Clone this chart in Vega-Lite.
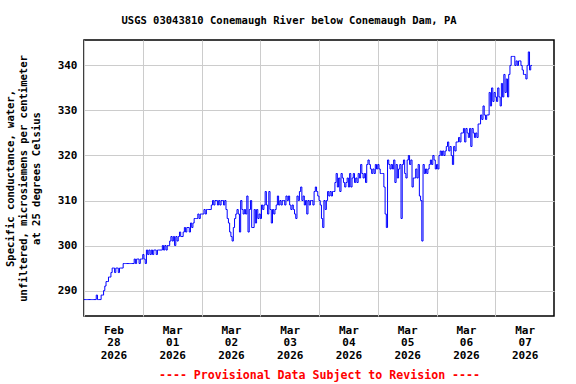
{
"$schema": "https://vega.github.io/schema/vega-lite/v6.json",
"width": 470, "height": 276,
"autosize": {"type": "none"},
"padding": {"left": 84, "top": 40, "right": 22, "bottom": 68},
"background": "white",
"title": {"text": "USGS 03043810 Conemaugh River below Conemaugh Dam, PA", "font": "DejaVu Sans Mono", "fontSize": 10.5, "fontWeight": "bold", "color": "black", "anchor": "middle", "dx": -30, "baseline": "alphabetic", "offset": 6},
"config": {"view": {"stroke": "black", "strokeWidth": 1.5}},
"data": {"values": [
{"t":"2026-02-28T00:00","v":288},{"t":"2026-02-28T00:30","v":288},{"t":"2026-02-28T01:00","v":288},{"t":"2026-02-28T01:30","v":288},{"t":"2026-02-28T02:00","v":288},{"t":"2026-02-28T02:30","v":288},{"t":"2026-02-28T03:00","v":288},{"t":"2026-02-28T03:30","v":288},{"t":"2026-02-28T04:00","v":288},{"t":"2026-02-28T04:30","v":288},{"t":"2026-02-28T05:00","v":289},{"t":"2026-02-28T05:30","v":288},{"t":"2026-02-28T06:00","v":288},{"t":"2026-02-28T06:30","v":288},{"t":"2026-02-28T07:00","v":289},{"t":"2026-02-28T07:30","v":289},{"t":"2026-02-28T08:00","v":290},{"t":"2026-02-28T08:30","v":291},{"t":"2026-02-28T09:00","v":292},{"t":"2026-02-28T09:30","v":292},{"t":"2026-02-28T10:00","v":293},{"t":"2026-02-28T10:30","v":293},{"t":"2026-02-28T11:00","v":294},{"t":"2026-02-28T11:30","v":295},{"t":"2026-02-28T12:00","v":295},{"t":"2026-02-28T12:30","v":294},{"t":"2026-02-28T13:00","v":295},{"t":"2026-02-28T13:30","v":295},{"t":"2026-02-28T14:00","v":294},{"t":"2026-02-28T14:30","v":295},{"t":"2026-02-28T15:00","v":295},{"t":"2026-02-28T15:30","v":295},{"t":"2026-02-28T16:00","v":296},{"t":"2026-02-28T16:30","v":296},{"t":"2026-02-28T17:00","v":296},{"t":"2026-02-28T17:30","v":296},{"t":"2026-02-28T18:00","v":296},{"t":"2026-02-28T18:30","v":296},{"t":"2026-02-28T19:00","v":296},{"t":"2026-02-28T19:30","v":296},{"t":"2026-02-28T20:00","v":296},{"t":"2026-02-28T20:30","v":297},{"t":"2026-02-28T21:00","v":296},{"t":"2026-02-28T21:30","v":297},{"t":"2026-02-28T22:00","v":297},{"t":"2026-02-28T22:30","v":296},{"t":"2026-02-28T23:00","v":297},{"t":"2026-02-28T23:30","v":297},
{"t":"2026-03-01T00:00","v":298},{"t":"2026-03-01T00:30","v":297},{"t":"2026-03-01T01:00","v":296},{"t":"2026-03-01T01:30","v":299},{"t":"2026-03-01T02:00","v":298},{"t":"2026-03-01T02:30","v":299},{"t":"2026-03-01T03:00","v":298},{"t":"2026-03-01T03:30","v":299},{"t":"2026-03-01T04:00","v":298},{"t":"2026-03-01T04:30","v":299},{"t":"2026-03-01T05:00","v":299},{"t":"2026-03-01T05:30","v":298},{"t":"2026-03-01T06:00","v":299},{"t":"2026-03-01T06:30","v":299},{"t":"2026-03-01T07:00","v":299},{"t":"2026-03-01T07:30","v":299},{"t":"2026-03-01T08:00","v":300},{"t":"2026-03-01T08:30","v":299},{"t":"2026-03-01T09:00","v":300},{"t":"2026-03-01T09:30","v":299},{"t":"2026-03-01T10:00","v":300},{"t":"2026-03-01T10:30","v":300},{"t":"2026-03-01T11:00","v":301},{"t":"2026-03-01T11:30","v":302},{"t":"2026-03-01T12:00","v":301},{"t":"2026-03-01T12:30","v":302},{"t":"2026-03-01T13:00","v":300},{"t":"2026-03-01T13:30","v":302},{"t":"2026-03-01T14:00","v":301},{"t":"2026-03-01T14:30","v":302},{"t":"2026-03-01T15:00","v":303},{"t":"2026-03-01T15:30","v":302},{"t":"2026-03-01T16:00","v":302},{"t":"2026-03-01T16:30","v":303},{"t":"2026-03-01T17:00","v":304},{"t":"2026-03-01T17:30","v":303},{"t":"2026-03-01T18:00","v":304},{"t":"2026-03-01T18:30","v":304},{"t":"2026-03-01T19:00","v":303},{"t":"2026-03-01T19:30","v":305},{"t":"2026-03-01T20:00","v":304},{"t":"2026-03-01T20:30","v":305},{"t":"2026-03-01T21:00","v":306},{"t":"2026-03-01T21:30","v":306},{"t":"2026-03-01T22:00","v":306},{"t":"2026-03-01T22:30","v":307},{"t":"2026-03-01T23:00","v":306},{"t":"2026-03-01T23:30","v":307},
{"t":"2026-03-02T00:00","v":307},{"t":"2026-03-02T00:30","v":307},{"t":"2026-03-02T01:00","v":308},{"t":"2026-03-02T01:30","v":307},{"t":"2026-03-02T02:00","v":308},{"t":"2026-03-02T02:30","v":308},{"t":"2026-03-02T03:00","v":308},{"t":"2026-03-02T03:30","v":308},{"t":"2026-03-02T04:00","v":309},{"t":"2026-03-02T04:30","v":310},{"t":"2026-03-02T05:00","v":309},{"t":"2026-03-02T05:30","v":310},{"t":"2026-03-02T06:00","v":310},{"t":"2026-03-02T06:30","v":309},{"t":"2026-03-02T07:00","v":310},{"t":"2026-03-02T07:30","v":309},{"t":"2026-03-02T08:00","v":310},{"t":"2026-03-02T08:30","v":310},{"t":"2026-03-02T09:00","v":309},{"t":"2026-03-02T09:30","v":310},{"t":"2026-03-02T10:00","v":308},{"t":"2026-03-02T10:30","v":306},{"t":"2026-03-02T11:00","v":305},{"t":"2026-03-02T11:30","v":303},{"t":"2026-03-02T12:00","v":302},{"t":"2026-03-02T12:30","v":301},{"t":"2026-03-02T13:00","v":304},{"t":"2026-03-02T13:30","v":306},{"t":"2026-03-02T14:00","v":307},{"t":"2026-03-02T14:30","v":308},{"t":"2026-03-02T15:00","v":307},{"t":"2026-03-02T15:30","v":303},{"t":"2026-03-02T16:00","v":310},{"t":"2026-03-02T16:30","v":308},{"t":"2026-03-02T17:00","v":307},{"t":"2026-03-02T17:30","v":308},{"t":"2026-03-02T18:00","v":307},{"t":"2026-03-02T18:30","v":311},{"t":"2026-03-02T19:00","v":303},{"t":"2026-03-02T19:30","v":308},{"t":"2026-03-02T20:00","v":310},{"t":"2026-03-02T20:30","v":304},{"t":"2026-03-02T21:00","v":304},{"t":"2026-03-02T21:30","v":308},{"t":"2026-03-02T22:00","v":305},{"t":"2026-03-02T22:30","v":308},{"t":"2026-03-02T23:00","v":306},{"t":"2026-03-02T23:30","v":307},
{"t":"2026-03-03T00:00","v":306},{"t":"2026-03-03T00:30","v":309},{"t":"2026-03-03T01:00","v":308},{"t":"2026-03-03T01:30","v":309},{"t":"2026-03-03T02:00","v":312},{"t":"2026-03-03T02:30","v":309},{"t":"2026-03-03T03:00","v":307},{"t":"2026-03-03T03:30","v":312},{"t":"2026-03-03T04:00","v":308},{"t":"2026-03-03T04:30","v":305},{"t":"2026-03-03T05:00","v":308},{"t":"2026-03-03T05:30","v":307},{"t":"2026-03-03T06:00","v":308},{"t":"2026-03-03T06:30","v":309},{"t":"2026-03-03T07:00","v":311},{"t":"2026-03-03T07:30","v":309},{"t":"2026-03-03T08:00","v":310},{"t":"2026-03-03T08:30","v":309},{"t":"2026-03-03T09:00","v":310},{"t":"2026-03-03T09:30","v":310},{"t":"2026-03-03T10:00","v":309},{"t":"2026-03-03T10:30","v":311},{"t":"2026-03-03T11:00","v":310},{"t":"2026-03-03T11:30","v":311},{"t":"2026-03-03T12:00","v":309},{"t":"2026-03-03T12:30","v":308},{"t":"2026-03-03T13:00","v":309},{"t":"2026-03-03T13:30","v":308},{"t":"2026-03-03T14:00","v":307},{"t":"2026-03-03T14:30","v":306},{"t":"2026-03-03T15:00","v":311},{"t":"2026-03-03T15:30","v":310},{"t":"2026-03-03T16:00","v":312},{"t":"2026-03-03T16:30","v":313},{"t":"2026-03-03T17:00","v":310},{"t":"2026-03-03T17:30","v":311},{"t":"2026-03-03T18:00","v":309},{"t":"2026-03-03T18:30","v":310},{"t":"2026-03-03T19:00","v":307},{"t":"2026-03-03T19:30","v":310},{"t":"2026-03-03T20:00","v":309},{"t":"2026-03-03T20:30","v":310},{"t":"2026-03-03T21:00","v":310},{"t":"2026-03-03T21:30","v":309},{"t":"2026-03-03T22:00","v":312},{"t":"2026-03-03T22:30","v":313},{"t":"2026-03-03T23:00","v":312},{"t":"2026-03-03T23:30","v":311},
{"t":"2026-03-04T00:00","v":310},{"t":"2026-03-04T00:30","v":309},{"t":"2026-03-04T01:00","v":306},{"t":"2026-03-04T01:30","v":304},{"t":"2026-03-04T02:00","v":310},{"t":"2026-03-04T02:30","v":308},{"t":"2026-03-04T03:00","v":310},{"t":"2026-03-04T03:30","v":312},{"t":"2026-03-04T04:00","v":311},{"t":"2026-03-04T04:30","v":312},{"t":"2026-03-04T05:00","v":311},{"t":"2026-03-04T05:30","v":312},{"t":"2026-03-04T06:00","v":312},{"t":"2026-03-04T06:30","v":314},{"t":"2026-03-04T07:00","v":316},{"t":"2026-03-04T07:30","v":313},{"t":"2026-03-04T08:00","v":315},{"t":"2026-03-04T08:30","v":312},{"t":"2026-03-04T09:00","v":316},{"t":"2026-03-04T09:30","v":315},{"t":"2026-03-04T10:00","v":314},{"t":"2026-03-04T10:30","v":313},{"t":"2026-03-04T11:00","v":314},{"t":"2026-03-04T11:30","v":315},{"t":"2026-03-04T12:00","v":313},{"t":"2026-03-04T12:30","v":316},{"t":"2026-03-04T13:00","v":313},{"t":"2026-03-04T13:30","v":315},{"t":"2026-03-04T14:00","v":316},{"t":"2026-03-04T14:30","v":314},{"t":"2026-03-04T15:00","v":315},{"t":"2026-03-04T15:30","v":314},{"t":"2026-03-04T16:00","v":316},{"t":"2026-03-04T16:30","v":315},{"t":"2026-03-04T17:00","v":318},{"t":"2026-03-04T17:30","v":316},{"t":"2026-03-04T18:00","v":315},{"t":"2026-03-04T18:30","v":316},{"t":"2026-03-04T19:00","v":314},{"t":"2026-03-04T19:30","v":318},{"t":"2026-03-04T20:00","v":319},{"t":"2026-03-04T20:30","v":318},{"t":"2026-03-04T21:00","v":317},{"t":"2026-03-04T21:30","v":316},{"t":"2026-03-04T22:00","v":317},{"t":"2026-03-04T22:30","v":316},{"t":"2026-03-04T23:00","v":318},{"t":"2026-03-04T23:30","v":317},
{"t":"2026-03-05T00:00","v":318},{"t":"2026-03-05T00:30","v":317},{"t":"2026-03-05T01:00","v":316},{"t":"2026-03-05T01:30","v":316},{"t":"2026-03-05T02:00","v":316},{"t":"2026-03-05T02:30","v":313},{"t":"2026-03-05T03:00","v":307},{"t":"2026-03-05T03:30","v":304},{"t":"2026-03-05T04:00","v":319},{"t":"2026-03-05T04:30","v":318},{"t":"2026-03-05T05:00","v":317},{"t":"2026-03-05T05:30","v":318},{"t":"2026-03-05T06:00","v":317},{"t":"2026-03-05T06:30","v":319},{"t":"2026-03-05T07:00","v":314},{"t":"2026-03-05T07:30","v":318},{"t":"2026-03-05T08:00","v":315},{"t":"2026-03-05T08:30","v":317},{"t":"2026-03-05T09:00","v":318},{"t":"2026-03-05T09:30","v":306},{"t":"2026-03-05T10:00","v":318},{"t":"2026-03-05T10:30","v":319},{"t":"2026-03-05T11:00","v":316},{"t":"2026-03-05T11:30","v":315},{"t":"2026-03-05T12:00","v":319},{"t":"2026-03-05T12:30","v":320},{"t":"2026-03-05T13:00","v":318},{"t":"2026-03-05T13:30","v":319},{"t":"2026-03-05T14:00","v":313},{"t":"2026-03-05T14:30","v":315},{"t":"2026-03-05T15:00","v":315},{"t":"2026-03-05T15:30","v":317},{"t":"2026-03-05T16:00","v":315},{"t":"2026-03-05T16:30","v":318},{"t":"2026-03-05T17:00","v":311},{"t":"2026-03-05T17:30","v":310},{"t":"2026-03-05T18:00","v":301},{"t":"2026-03-05T18:30","v":318},{"t":"2026-03-05T19:00","v":316},{"t":"2026-03-05T19:30","v":317},{"t":"2026-03-05T20:00","v":316},{"t":"2026-03-05T20:30","v":317},{"t":"2026-03-05T21:00","v":318},{"t":"2026-03-05T21:30","v":319},{"t":"2026-03-05T22:00","v":318},{"t":"2026-03-05T22:30","v":320},{"t":"2026-03-05T23:00","v":319},{"t":"2026-03-05T23:30","v":317},
{"t":"2026-03-06T00:00","v":318},{"t":"2026-03-06T00:30","v":317},{"t":"2026-03-06T01:00","v":320},{"t":"2026-03-06T01:30","v":321},{"t":"2026-03-06T02:00","v":320},{"t":"2026-03-06T02:30","v":321},{"t":"2026-03-06T03:00","v":320},{"t":"2026-03-06T03:30","v":321},{"t":"2026-03-06T04:00","v":322},{"t":"2026-03-06T04:30","v":323},{"t":"2026-03-06T05:00","v":321},{"t":"2026-03-06T05:30","v":322},{"t":"2026-03-06T06:00","v":320},{"t":"2026-03-06T06:30","v":318},{"t":"2026-03-06T07:00","v":322},{"t":"2026-03-06T07:30","v":321},{"t":"2026-03-06T08:00","v":323},{"t":"2026-03-06T08:30","v":323},{"t":"2026-03-06T09:00","v":324},{"t":"2026-03-06T09:30","v":323},{"t":"2026-03-06T10:00","v":325},{"t":"2026-03-06T10:30","v":325},{"t":"2026-03-06T11:00","v":326},{"t":"2026-03-06T11:30","v":323},{"t":"2026-03-06T12:00","v":326},{"t":"2026-03-06T12:30","v":325},{"t":"2026-03-06T13:00","v":324},{"t":"2026-03-06T13:30","v":326},{"t":"2026-03-06T14:00","v":322},{"t":"2026-03-06T14:30","v":326},{"t":"2026-03-06T15:00","v":325},{"t":"2026-03-06T15:30","v":324},{"t":"2026-03-06T16:00","v":325},{"t":"2026-03-06T16:30","v":324},{"t":"2026-03-06T17:00","v":327},{"t":"2026-03-06T17:30","v":327},{"t":"2026-03-06T18:00","v":329},{"t":"2026-03-06T18:30","v":328},{"t":"2026-03-06T19:00","v":331},{"t":"2026-03-06T19:30","v":329},{"t":"2026-03-06T20:00","v":328},{"t":"2026-03-06T20:30","v":329},{"t":"2026-03-06T21:00","v":329},{"t":"2026-03-06T21:30","v":334},{"t":"2026-03-06T22:00","v":331},{"t":"2026-03-06T22:30","v":335},{"t":"2026-03-06T23:00","v":332},{"t":"2026-03-06T23:30","v":334},
{"t":"2026-03-07T00:00","v":333},{"t":"2026-03-07T00:30","v":332},{"t":"2026-03-07T01:00","v":335},{"t":"2026-03-07T01:30","v":333},{"t":"2026-03-07T02:00","v":331},{"t":"2026-03-07T02:30","v":336},{"t":"2026-03-07T03:00","v":333},{"t":"2026-03-07T03:30","v":338},{"t":"2026-03-07T04:00","v":334},{"t":"2026-03-07T04:30","v":337},{"t":"2026-03-07T05:00","v":333},{"t":"2026-03-07T05:30","v":338},{"t":"2026-03-07T06:00","v":340},{"t":"2026-03-07T06:30","v":342},{"t":"2026-03-07T07:00","v":342},{"t":"2026-03-07T07:30","v":342},{"t":"2026-03-07T08:00","v":340},{"t":"2026-03-07T08:30","v":341},{"t":"2026-03-07T09:00","v":340},{"t":"2026-03-07T09:30","v":341},{"t":"2026-03-07T10:00","v":341},{"t":"2026-03-07T10:30","v":340},{"t":"2026-03-07T11:00","v":339},{"t":"2026-03-07T11:30","v":338},{"t":"2026-03-07T12:00","v":338},{"t":"2026-03-07T12:30","v":337},{"t":"2026-03-07T13:00","v":340},{"t":"2026-03-07T13:30","v":343},{"t":"2026-03-07T14:00","v":339},{"t":"2026-03-07T14:30","v":340},{"t":"2026-03-07T15:00","v":340}
]},
"mark": {"type": "line", "color": "#0000ff", "strokeWidth": 1, "interpolate": "step-after", "clip": true},
"encoding": {
"x": {"field": "t", "type": "temporal",
 "scale": {"domain": [{"year": 2026, "month": 2, "date": 28}, {"year": 2026, "month": 3, "date": 8}]},
 "axis": {
  "values": [{"year": 2026, "month": 2, "date": 28}, {"year": 2026, "month": 3, "date": 1}, {"year": 2026, "month": 3, "date": 2}, {"year": 2026, "month": 3, "date": 3}, {"year": 2026, "month": 3, "date": 4}, {"year": 2026, "month": 3, "date": 5}, {"year": 2026, "month": 3, "date": 6}, {"year": 2026, "month": 3, "date": 7}],
  "labelExpr": "[timeFormat(datum.value, '%b'), timeFormat(datum.value, '%d'), timeFormat(datum.value, '%Y')]",
  "labelOffset": 29.4, "labelFlush": false, "labelOverlap": false,
  "labelFont": "DejaVu Sans Mono", "labelFontSize": 11, "labelFontWeight": "bold", "labelColor": "black",
  "labelPadding": 8, "labelLineHeight": 12.7, "labelAlign": "center", "labelBaseline": "top",
  "ticks": false, "domain": false,
  "grid": true, "gridColor": "#cccccc", "gridWidth": 1,
  "title": "---- Provisional Data Subject to Revision ----",
  "titleColor": "#ff0000", "titleFont": "DejaVu Sans Mono", "titleFontSize": 11.6, "titleFontWeight": "bold", "titlePadding": 9
 }},
"y": {"field": "v", "type": "quantitative",
 "scale": {"domain": [284.35, 345.65], "nice": false, "zero": false},
 "axis": {
  "values": [290, 300, 310, 320, 330, 340],
  "labelFont": "DejaVu Sans Mono", "labelFontSize": 11, "labelFontWeight": "bold", "labelColor": "black", "labelPadding": 7,
  "ticks": false, "domain": false,
  "grid": true, "gridColor": "#cccccc", "gridWidth": 1,
  "title": ["Specific conductance, water,", "unfiltered, microsiemens per centimeter", "at 25 degrees Celsius"],
  "titleFont": "DejaVu Sans Mono", "titleFontSize": 10.5, "titleFontWeight": "bold", "titleColor": "black", "titleLineHeight": 13, "titlePadding": 16
 }}
}
}
